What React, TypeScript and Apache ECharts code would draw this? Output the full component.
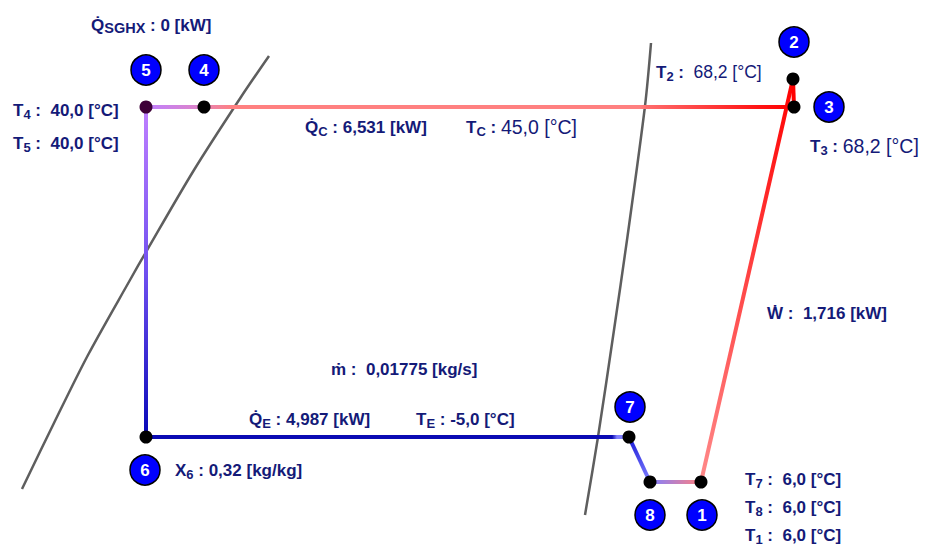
import React, { useEffect, useRef } from 'react';
import * as echarts from 'echarts';

// ---- data (schematic p-h positions) ----
const stateIds = ['1', '2', '3', '4', '5', '6', '7', '8'];
const stateH = [701, 793, 794, 204, 146, 146, 629, 650];
const stateP = [482, 79, 107, 107, 107, 437, 437, 482];
const badgeH = [702, 794, 829, 204, 146, 145, 630, 650];
const badgeP = [515, 42, 107, 70, 70, 470, 407, 515];

const liquidH = [269, 241, 194, 146, 130, 88, 54, 22];
const liquidP = [56, 97, 170, 252, 280, 355, 423, 489];
const vapourH = [651, 645, 627, 614, 598, 585];
const vapourP = [43, 106, 240, 330, 437, 515];

const cycleFrom = ['1', '2', '3', '4', '5', '6', '7', '8'];
const cycleTo = ['2', '3', '4', '5', '6', '7', '8', '1'];

const tempStates = ['4', '5', '2', '3', '7', '8', '1'];
const tempValues = ['40,0', '40,0', '68,2', '68,2', '6,0', '6,0', '6,0'];
const heatNames = ['SGHX', 'C', 'E'];
const heatValues = ['0', '6,531', '4,987'];
const satNames = ['C', 'E'];
const satTemps = ['45,0', '-5,0'];
const workValue = '1,716';
const massFlow = '0,01775';
const qualityState = '6';
const qualityValue = '0,32';

// ---- layout / styles ----
const NAVY = '#141a78';
const FONT = '"Liberation Sans", Arial, sans-serif';

const segmentStops: [number, string][][] = [
  [[0, '#ff8a8a'], [1, '#ff0000']],
  [[0, '#ff0000'], [1, '#ff0000']],
  [[0, '#ff0000'], [0.06, '#ff1414'], [0.25, '#ff6c6c'], [0.26, '#ff8080'], [0.95, '#ff8080'], [1, '#e884b4']],
  [[0, '#e084c4'], [1, '#bf80ff']],
  [[0, '#c080ff'], [0.5, '#7050f0'], [1, '#0808b8']],
  [[0, '#0a0ab4'], [0.965, '#0a0ab4'], [0.975, '#8080ff'], [1, '#8080ff']],
  [[0, '#1818d8'], [1, '#8080ff']],
  [[0, '#8080ff'], [0.5, '#c080c0'], [1, '#ff8080']],
];

const labelAnchors: Record<string, [number, number]> = {
  T4: [13, 110], T5: [13, 143], T2: [656, 72], T3: [810, 146],
  T7: [745, 479], T8: [745, 507], T1: [745, 535],
  QSGHX: [91, 25], QC: [305, 127], QE: [249, 419],
  TC: [466, 127], TE: [416, 419], W: [767, 313], m: [331, 369], X6: [175, 470],
};

function buildLabels() {
  const items: { key: string; text: string }[] = [];
  tempStates.forEach((s, i) => {
    const v = tempValues[i];
    let text: string;
    if (s === '2') text = `{b|T}{sub|${s}}{b| :\u00a0 }{r2|${v} [°C]}`;
    else if (s === '3') text = `{b|T}{sub|${s}}{b| : }{r|${v} [°C]}`;
    else text = `{b|T}{sub|${s}}{b| :\u00a0 ${v} [°C]}`;
    items.push({ key: 'T' + s, text });
  });
  heatNames.forEach((n, i) => {
    const st = n.length > 1 ? 'subL' : 'sub';
    items.push({ key: 'Q' + n, text: `{b|Q\u0307}{${st}|${n}}{b| : ${heatValues[i]} [kW]}` });
  });
  satNames.forEach((n, i) => {
    const text = n === 'C'
      ? `{b|T}{sub|${n}}{b| : }{r|${satTemps[i]} [°C]}`
      : `{b|T}{sub|${n}}{b| : ${satTemps[i]} [°C]}`;
    items.push({ key: 'T' + n, text });
  });
  items.push({ key: 'W', text: `{b|\u1E86 :\u00a0 ${workValue} [kW]}` });
  items.push({ key: 'm', text: `{b|\u1E41 :\u00a0 ${massFlow} [kg/s]}` });
  items.push({ key: 'X' + qualityState, text: `{b|X}{sub|${qualityState}}{b| : ${qualityValue} [kg/kg]}` });
  return items;
}

const rich = {
  b: { fontFamily: FONT, fontWeight: 'bold', fontSize: 17, color: NAVY, lineHeight: 21 },
  sub: { fontFamily: FONT, fontWeight: 'bold', fontSize: 13, color: NAVY, lineHeight: 10, verticalAlign: 'bottom' },
  subL: { fontFamily: FONT, fontWeight: 'bold', fontSize: 14.5, color: NAVY, lineHeight: 10, verticalAlign: 'bottom' },
  r: { fontFamily: FONT, fontWeight: 'normal', fontSize: 19.5, color: NAVY, lineHeight: 21 },
  r2: { fontFamily: FONT, fontWeight: 'normal', fontSize: 17.5, color: NAVY, lineHeight: 21 },
};

export default function App() {
  const ref = useRef<HTMLDivElement>(null);
  useEffect(() => {
    if (!ref.current) return;
    const chart = echarts.init(ref.current, null, { renderer: 'svg' });
    const idx = (id: string) => stateIds.indexOf(id);

    const segSeries = cycleFrom.map((f, i) => {
      const a = idx(f), b = idx(cycleTo[i]);
      return {
        id: 'seg' + i,
        type: 'line',
        data: [[stateH[a], stateP[a]], [stateH[b], stateP[b]]],
        showSymbol: false,
        silent: true,
        z: 3,
        lineStyle: { width: 4, color: segmentStops[i][0][1] },
      };
    });

    const labels = buildLabels();

    const option: any = {
      animation: false,
      backgroundColor: '#ffffff',
      grid: { left: 0, right: 0, top: 0, bottom: 0 },
      xAxis: { type: 'value', min: 0, max: 927, show: false },
      yAxis: { type: 'value', min: 0, max: 545, inverse: true, show: false },
      series: [
        {
          id: 'liquid', type: 'line', smooth: 0.3, showSymbol: false, silent: true, z: 2,
          data: liquidH.map((h, i) => [h, liquidP[i]]),
          lineStyle: { color: '#5e5e5e', width: 2.5 },
        },
        {
          id: 'vapour', type: 'line', smooth: 0.3, showSymbol: false, silent: true, z: 2,
          data: vapourH.map((h, i) => [h, vapourP[i]]),
          lineStyle: { color: '#5e5e5e', width: 2.5 },
        },
        ...segSeries,
        {
          id: 'states', type: 'scatter', silent: true, z: 5,
          symbolSize: 13,
          data: stateIds.map((s, i) => ({
            value: [stateH[i], stateP[i]],
            itemStyle: { color: s === '5' ? '#3d0038' : '#000000', opacity: 1 },
          })),
        },
        {
          id: 'badges', type: 'scatter', silent: true, z: 6,
          symbolSize: 30,
          itemStyle: { color: '#0000ff', borderColor: '#000000', borderWidth: 1.5, opacity: 1 },
          label: {
            show: true, position: 'inside', color: '#ffffff',
            fontFamily: FONT, fontWeight: 'bold', fontSize: 17,
            formatter: (p: any) => p.name,
          },
          data: stateIds.map((s, i) => ({ name: s, value: [badgeH[i], badgeP[i]] })),
        },
        {
          id: 'texts', type: 'scatter', silent: true, z: 7,
          symbolSize: 0,
          itemStyle: { color: 'rgba(0,0,0,0)', opacity: 1 },
          label: {
            show: true, position: 'right', distance: 0,
            formatter: (p: any) => p.data.text,
            rich,
          },
          data: labels.map((l) => ({ value: labelAnchors[l.key], text: l.text })),
        },
      ],
    };
    chart.setOption(option);

    const px = stateIds.map((_, i) => chart.convertToPixel({ gridIndex: 0 } as any, [stateH[i], stateP[i]]) as number[]);
    chart.setOption({
      series: cycleFrom.map((f, i) => {
        const a = px[idx(f)], b = px[idx(cycleTo[i])];
        return {
          id: 'seg' + i,
          lineStyle: {
            color: new echarts.graphic.LinearGradient(
              a[0], a[1], b[0], b[1],
              segmentStops[i].map(([offset, color]) => ({ offset, color })),
              true,
            ),
          },
        };
      }),
    });

    return () => chart.dispose();
  }, []);

  return (
    <div
      ref={ref}
      style={{ position: 'absolute', left: 0, top: 0, width: 927, height: 545, background: '#fff' }}
    />
  );
}
